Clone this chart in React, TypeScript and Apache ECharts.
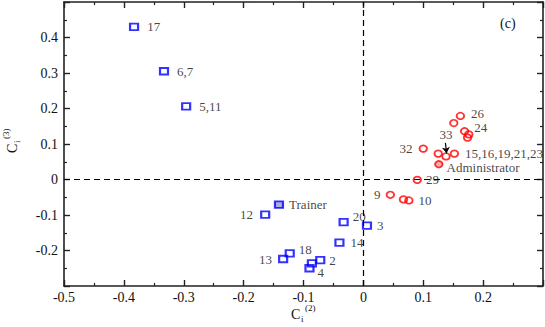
import React, { useEffect, useRef } from 'react';
import * as echarts from 'echarts';

// Blue squares (one community)
const blueNames = ['17', '6,7', '5,11', 'Trainer', '12', '20', '3', '14', '18', '13', '2', '', '4'];
const blueX = [-0.383, -0.333, -0.296, -0.141, -0.164, -0.033, 0.006, -0.04, -0.123, -0.134, -0.072, -0.086, -0.09];
const blueY = [0.43, 0.305, 0.206, -0.071, -0.099, -0.12, -0.13, -0.178, -0.208, -0.224, -0.227, -0.236, -0.25];

// Red circles (other community)
const redNames = ['26', '', '24', '', '', '32', '', '33', '15,16,19,21,23', 'Administrator', '29', '9', '', '10'];
const redX = [0.162, 0.151, 0.169, 0.176, 0.174, 0.1, 0.125, 0.138, 0.152, 0.126, 0.09, 0.045, 0.067, 0.076];
const redY = [0.179, 0.159, 0.136, 0.127, 0.118, 0.087, 0.073, 0.065, 0.073, 0.043, -0.001, -0.043, -0.056, -0.059];

// Axis ticks
const xTickLabels = ['-0.5', '-0.4', '-0.3', '-0.2', '-0.1', '0', '0.1', '0.2'];
const yTickLabels = ['-0.2', '-0.1', '0', '0.1', '0.2', '0.3', '0.4'];
const xRange = [-0.5, 0.3];
const yRange = [-0.3, 0.5];
const tickStep = 0.1;

const FONT = "'Liberation Serif', 'Times New Roman', serif";
const INK = '#111';

const labelLayout: Record<string, any> = {
  '17': { position: 'right', distance: 8 },
  '6,7': { position: 'right', distance: 8 },
  '5,11': { position: 'right', distance: 8 },
  Trainer: { position: 'right', distance: 5 },
  '12': { position: 'left', distance: 7 },
  '20': { position: 'right', distance: 4, offset: [0, -6] },
  '3': { position: 'right', distance: 5 },
  '14': { position: 'right', distance: 6 },
  '18': { position: 'right', distance: 4, offset: [0, -4] },
  '13': { position: 'left', distance: 6 },
  '2': { position: 'right', distance: 4 },
  '4': { position: 'right', distance: 3, offset: [0, 4] },
  '26': { position: 'right', distance: 6, offset: [0, -2] },
  '24': { position: 'right', distance: 5, offset: [0, -4] },
  '32': { position: 'left', distance: 6 },
  '33': { position: 'top', distance: 11 },
  '15,16,19,21,23': { position: 'right', distance: 6 },
  Administrator: { position: 'right', distance: 3, offset: [0, 3] },
  '29': { position: 'right', distance: 4 },
  '9': { position: 'left', distance: 5 },
  '10': { position: 'right', distance: 5 },
};

function makeData(names: string[], xs: number[], ys: number[], special: string, specialStyle: any) {
  return names.map((n, i) => {
    const item: any = { name: n, value: [xs[i], ys[i]] };
    if (n && labelLayout[n]) {
      item.label = {
        show: true,
        formatter: n,
        color: INK,
        textBorderWidth: 0,
        textBorderColor: 'transparent',
        fontFamily: FONT,
        fontSize: 13,
        ...labelLayout[n],
      };
    }
    if (n === special) item.itemStyle = specialStyle;
    return item;
  });
}

export default function App() {
  const ref = useRef<HTMLDivElement>(null);
  useEffect(() => {
    if (!ref.current) return;
    const chart = echarts.init(ref.current, undefined, { renderer: 'svg' });

    const fmtX = (v: number) => {
      const idx = Math.round((v - xRange[0]) / tickStep);
      return xTickLabels[idx] ?? '';
    };
    const fmtY = (v: number) => {
      const idx = Math.round((v - (yRange[0] + tickStep)) / tickStep);
      return yTickLabels[idx] ?? '';
    };

    const axisCommon = {
      type: 'value',
      interval: tickStep,
      splitLine: { show: false },
      minorSplitLine: { show: false },
      axisLine: { show: true, onZero: false, lineStyle: { color: '#222', width: 1.6 } },
      axisTick: { show: true, inside: true, length: 6, lineStyle: { color: '#222', width: 1.4 } },
      minorTick: { show: true, splitNumber: 2, length: 3, lineStyle: { color: '#222', width: 1.2 } },
    };

    const i33 = redNames.indexOf('33');

    chart.setOption({
      animation: false,
      backgroundColor: '#fff',
      grid: { left: 64, right: 2, top: 2, bottom: 41, containLabel: false },
      xAxis: [
        {
          ...axisCommon,
          min: xRange[0],
          max: xRange[1],
          position: 'bottom',
          axisLabel: {
            show: true,
            formatter: fmtX,
            showMaxLabel: false,
            margin: 4,
            fontFamily: FONT,
            fontSize: 14,
            color: INK,
          },
        },
        {
          ...axisCommon,
          min: xRange[0],
          max: xRange[1],
          position: 'top',
          axisLabel: { show: false },
        },
      ],
      yAxis: [
        {
          ...axisCommon,
          min: yRange[0],
          max: yRange[1],
          position: 'left',
          axisLabel: {
            show: true,
            formatter: fmtY,
            showMaxLabel: false,
            showMinLabel: false,
            margin: 6,
            fontFamily: FONT,
            fontSize: 14,
            color: INK,
          },
        },
        {
          ...axisCommon,
          min: yRange[0],
          max: yRange[1],
          position: 'right',
          axisLabel: { show: false },
        },
      ],
      series: [
        {
          type: 'scatter',
          xAxisIndex: 0,
          yAxisIndex: 0,
          symbol: 'rect',
          symbolSize: [8, 6.5],
          itemStyle: { color: 'rgba(0,0,0,0)', borderColor: '#0000ff', borderWidth: 2 },
          data: makeData(blueNames, blueX, blueY, 'Trainer', {
            color: '#9a9ad8',
            borderColor: '#0000ff',
            borderWidth: 2,
          }),
          markLine: {
            silent: true,
            symbol: 'none',
            label: { show: false },
            lineStyle: { type: [6, 4], color: '#000', width: 1.2 },
            data: [{ xAxis: 0 }, { yAxis: 0 }],
          },
          z: 3,
        },
        {
          type: 'scatter',
          xAxisIndex: 0,
          yAxisIndex: 0,
          symbol: 'circle',
          symbolSize: [7.5, 6.5],
          itemStyle: { color: 'rgba(0,0,0,0)', borderColor: '#ff0000', borderWidth: 1.8 },
          data: makeData(redNames, redX, redY, 'Administrator', {
            color: '#f29a9a',
            borderColor: '#ff0000',
            borderWidth: 1.8,
          }),
          markLine: {
            silent: true,
            symbol: ['none', 'arrow'],
            symbolSize: 6,
            label: { show: false },
            lineStyle: { type: 'solid', color: '#000', width: 1.2 },
            data: [
              [
                { coord: [redX[i33] - 0.001, redY[i33] + 0.038] },
                { coord: [redX[i33] + 0.001, redY[i33] + 0.009] },
              ],
            ],
          },
          z: 3,
        },
      ],
      graphic: [
        {
          type: 'text',
          left: 500,
          top: 16,
          style: { text: '(c)', fontFamily: FONT, fontSize: 14, fill: INK },
        },
        {
          type: 'group',
          x: 291,
          y: 314,
          children: [
            { type: 'text', x: 0, y: 0, style: { text: 'C', fontFamily: FONT, fontSize: 14, fill: INK, verticalAlign: 'middle' } },
            { type: 'text', x: 10, y: 5, style: { text: 'i', fontFamily: FONT, fontSize: 9, fill: INK, verticalAlign: 'middle' } },
            { type: 'text', x: 14, y: -6, style: { text: '(2)', fontFamily: FONT, fontSize: 9, fill: INK, verticalAlign: 'middle' } },
          ],
        },
        {
          type: 'group',
          x: 12,
          y: 153,
          rotation: Math.PI / 2,
          children: [
            { type: 'text', x: 0, y: 0, style: { text: 'C', fontFamily: FONT, fontSize: 14, fill: INK, verticalAlign: 'middle' } },
            { type: 'text', x: 10, y: 5, style: { text: 'i', fontFamily: FONT, fontSize: 9, fill: INK, verticalAlign: 'middle' } },
            { type: 'text', x: 14, y: -6, style: { text: '(3)', fontFamily: FONT, fontSize: 9, fill: INK, verticalAlign: 'middle' } },
          ],
        },
      ],
    });
    return () => chart.dispose();
  }, []);
  return (
    <div
      ref={ref}
      style={{ position: 'fixed', left: 0, top: 0, width: 545, height: 327, background: '#fff' }}
    />
  );
}
